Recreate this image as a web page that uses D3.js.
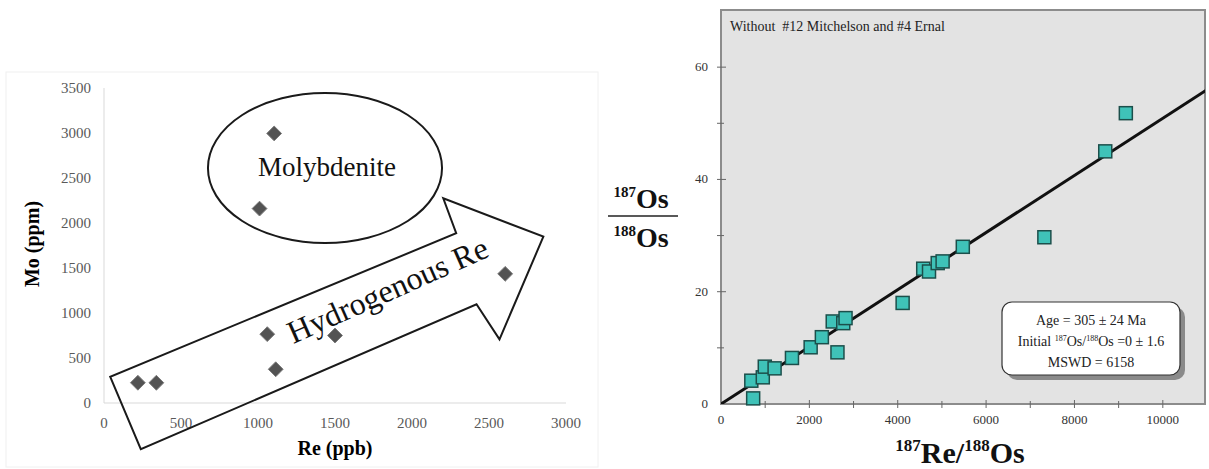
<!DOCTYPE html>
<html>
<head>
<meta charset="utf-8">
<script src="https://cdn.jsdelivr.net/npm/d3@7/dist/d3.min.js"></script>
<style>
    body { margin: 0; background: #fff; }
    svg { display: block; font-family: 'Liberation Serif', 'Times New Roman', serif; }
</style>
</head>
<body>
<svg id="chart" width="1209" height="469"></svg>
<script>
// left panel: Mo vs Re
const reLeft = [220, 340, 1060, 1115, 1500, 1105, 1010, 2605];
const moLeft = [225, 225, 765, 375, 750, 2995, 2160, 1435];
const leftXTicks = [0, 500, 1000, 1500, 2000, 2500, 3000];
const leftYTicks = [0, 500, 1000, 1500, 2000, 2500, 3000, 3500];

// right panel: isochron
const reOs = [686, 728, 946, 991, 1213, 1606, 2029, 2283, 2529, 2636, 2767, 2819, 4111, 4577, 4708, 4905, 5016, 5473, 7319, 8697, 9163];
const osOs = [4.15, 1.0, 4.75, 6.65, 6.35, 8.2, 10.1, 11.9, 14.7, 9.2, 14.4, 15.3, 18.0, 24.1, 23.6, 25.1, 25.4, 28.0, 29.7, 45.0, 51.8];
const rightXTicks = [0, 2000, 4000, 6000, 8000, 10000];
const rightYTicks = [0, 20, 40, 60];
const isoSlope = 0.00509;
const isoIntercept = 0;

// annotation shapes (in data units of the left panel)
const arrowPts = [[40, 292], [239, -514], [2419, 1097], [2568, 708], [2853, 1848], [2203, 2274], [2287, 1886]];
const ellipseC = [1435, 2611], ellipseR = [760, 833];

const svg = d3.select('#chart');

// ---------- left panel ----------
var xL = d3.scaleLinear().domain([0, 3000]).range([104, 566]);
var yL = d3.scaleLinear().domain([0, 3500]).range([403, 88]);

svg.append('rect')
    .attr('x', 6).attr('y', 72).attr('width', 592).attr('height', 395)
    .attr('fill', 'none').attr('stroke', '#f0f0f0');

svg.append('line')
    .attr('x1', xL(0)).attr('x2', xL(0)).attr('y1', yL(0)).attr('y2', yL(3500))
    .attr('stroke', '#d9d9d9');
svg.append('line')
    .attr('x1', xL(0)).attr('x2', xL(3000)).attr('y1', yL(0)).attr('y2', yL(0))
    .attr('stroke', '#d9d9d9');

svg.append('g').selectAll('text').data(leftYTicks).enter().append('text')
    .attr('x', 91).attr('y', d => yL(d) + 5)
    .attr('text-anchor', 'end').attr('font-size', 15).attr('fill', '#595959')
    .text(d => d);

svg.append('g').selectAll('text').data(leftXTicks).enter().append('text')
    .attr('x', d => xL(d)).attr('y', 428)
    .attr('text-anchor', 'middle').attr('font-size', 15).attr('fill', '#595959')
    .text(d => d);

svg.append('text')
    .attr('x', 335).attr('y', 455)
    .attr('text-anchor', 'middle').attr('font-size', 20).attr('font-weight', 'bold')
    .text('Re (ppb)');
svg.append('text')
    .attr('transform', 'translate(39,244) rotate(-90)')
    .attr('text-anchor', 'middle').attr('font-size', 20).attr('font-weight', 'bold')
    .text('Mo (ppm)');

// ellipse + arrow
svg.append('ellipse')
    .attr('cx', xL(ellipseC[0])).attr('cy', yL(ellipseC[1]))
    .attr('rx', xL(ellipseR[0]) - xL(0)).attr('ry', yL(0) - yL(ellipseR[1]))
    .attr('fill', 'none').attr('stroke', '#1a1a1a').attr('stroke-width', 2);

svg.append('polygon')
    .attr('points', arrowPts.map(p => xL(p[0]) + ',' + yL(p[1])).join(' '))
    .attr('fill', 'none').attr('stroke', '#1a1a1a').attr('stroke-width', 2);

svg.append('text')
    .attr('x', 327).attr('y', 176)
    .attr('text-anchor', 'middle').attr('font-size', 27).attr('fill', '#111')
    .text('Molybdenite');

svg.append('text')
    .attr('transform', 'translate(392,300) rotate(-24)')
    .attr('text-anchor', 'middle').attr('font-size', 32).attr('fill', '#111')
    .text('Hydrogenous Re');

// diamonds
svg.append('g').selectAll('path').data(reLeft).enter().append('path')
    .attr('d', d3.symbol().type(d3.symbolDiamond2).size(140))
    .attr('transform', (d, i) => 'translate(' + xL(d) + ',' + yL(moLeft[i]) + ')')
    .attr('fill', '#535353')
    .attr('stroke', '#7a7a7a').attr('stroke-width', 1);

// ---------- right panel ----------
var xR = d3.scaleLinear().domain([0, 11000]).range([721, 1207]);
var yR = d3.scaleLinear().domain([0, 70]).range([404, 11]);

svg.append('defs').append('clipPath').attr('id', 'frameClip')
    .append('rect').attr('x', 721).attr('y', 10).attr('width', 484).attr('height', 394);

svg.append('rect')
    .attr('x', 721).attr('y', 10).attr('width', 484).attr('height', 394)
    .attr('fill', '#e3e3e3').attr('stroke', '#8c8c8c').attr('stroke-width', 2);

// ticks (major + minor)
var xMinor = d3.range(1000, 11000, 1000);
var yMinor = d3.range(10, 70, 10);
svg.append('g').selectAll('line').data(xMinor).enter().append('line')
    .attr('x1', d => xR(d)).attr('x2', d => xR(d))
    .attr('y1', d => rightXTicks.includes(d) ? 400 : 401).attr('y2', 408)
    .attr('stroke', '#666');
svg.append('g').selectAll('line').data(yMinor).enter().append('line')
    .attr('y1', d => yR(d)).attr('y2', d => yR(d))
    .attr('x1', 717).attr('x2', d => rightYTicks.includes(d) ? 726 : 724)
    .attr('stroke', '#666');

svg.append('g').selectAll('text').data(rightXTicks).enter().append('text')
    .attr('x', d => xR(d)).attr('y', 424)
    .attr('text-anchor', 'middle').attr('font-size', 13).attr('fill', '#333')
    .text(d => d);
svg.append('g').selectAll('text').data(rightYTicks).enter().append('text')
    .attr('x', 708).attr('y', d => yR(d) + 4)
    .attr('text-anchor', 'end').attr('font-size', 13).attr('fill', '#333')
    .text(d => d);

svg.append('text')
    .attr('x', 730).attr('y', 31)
    .attr('font-size', 14).attr('fill', '#222')
    .attr('xml:space', 'preserve')
    .text('Without  #12 Mitchelson and #4 Ernal');

// isochron line
svg.append('line')
    .attr('clip-path', 'url(#frameClip)')
    .attr('x1', xR(0)).attr('y1', yR(isoIntercept))
    .attr('x2', xR(11000)).attr('y2', yR(isoIntercept + isoSlope * 11000))
    .attr('stroke', '#111').attr('stroke-width', 3);

// squares
svg.append('g').selectAll('rect').data(reOs).enter().append('rect')
    .attr('x', d => xR(d) - 6.5)
    .attr('y', (d, i) => yR(osOs[i]) - 6.5)
    .attr('width', 13).attr('height', 13)
    .attr('fill', '#3fc2b8')
    .attr('stroke', '#1c4f4b').attr('stroke-width', 1.5);

// stats box
var box = svg.append('g');
box.append('rect')
    .attr('x', 1007).attr('y', 307).attr('width', 178).attr('height', 73).attr('rx', 10)
    .attr('fill', '#8a8a8a');
box.append('rect')
    .attr('x', 1002).attr('y', 302).attr('width', 178).attr('height', 73).attr('rx', 10)
    .attr('fill', '#fff').attr('stroke', '#333').attr('stroke-width', 1.2);
box.append('text')
    .attr('x', 1091).attr('y', 325).attr('text-anchor', 'middle').attr('font-size', 14).attr('fill', '#222')
    .text('Age = 305 ± 24 Ma');
var ini = box.append('text')
    .attr('x', 1091).attr('y', 346).attr('text-anchor', 'middle').attr('font-size', 14).attr('fill', '#222');
ini.append('tspan').text('Initial ');
ini.append('tspan').attr('font-size', 8).attr('dy', -5).text('187');
ini.append('tspan').attr('dy', 5).text('Os/');
ini.append('tspan').attr('font-size', 8).attr('dy', -5).text('188');
ini.append('tspan').attr('dy', 5).text('Os =0 ± 1.6');
box.append('text')
    .attr('x', 1091).attr('y', 367).attr('text-anchor', 'middle').attr('font-size', 14).attr('fill', '#222')
    .text('MSWD = 6158');

// y label fraction
function isoLabel (g, x, y, mass, el, size, supSize) {
    var t = g.append('text').attr('x', x).attr('y', y)
        .attr('text-anchor', 'middle').attr('font-weight', 'bold').attr('font-size', size).attr('fill', '#111');
    t.append('tspan').attr('font-size', supSize).attr('dy', -size * 0.4).text(mass);
    t.append('tspan').attr('dy', size * 0.4).text(el);
    return t;
}
isoLabel(svg, 641, 208, '187', 'Os', 28, 15);
svg.append('line')
    .attr('x1', 608).attr('x2', 678).attr('y1', 216).attr('y2', 216)
    .attr('stroke', '#222').attr('stroke-width', 1.5);
isoLabel(svg, 641, 247, '188', 'Os', 28, 15);

// x label
var xl = svg.append('text').attr('x', 960).attr('y', 463)
    .attr('text-anchor', 'middle').attr('font-weight', 'bold').attr('font-size', 30).attr('fill', '#111');
xl.append('tspan').attr('font-size', 17).attr('dy', -12).text('187');
xl.append('tspan').attr('dy', 12).text('Re/');
xl.append('tspan').attr('font-size', 17).attr('dy', -12).text('188');
xl.append('tspan').attr('dy', 12).text('Os');
</script>
</body>
</html>
